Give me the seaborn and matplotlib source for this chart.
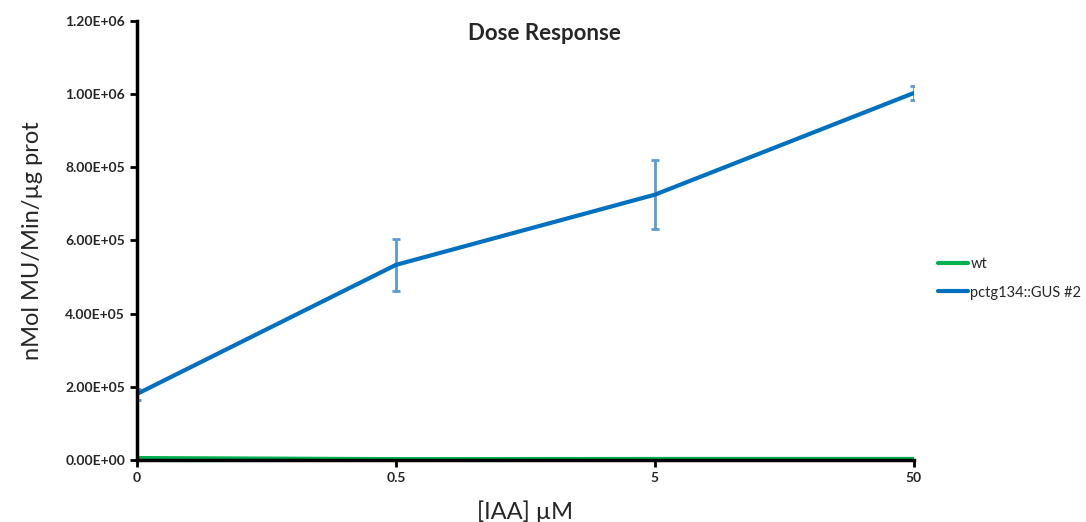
import pandas as pd
import matplotlib.pyplot as plt
import seaborn as sns

# Data
doses = ["0", "0.5", "5", "50"]
wt = [5000, 2000, 2500, 2500]
gus = [180000, 533000, 725000, 1003000]
gus_err = [15000, 71000, 94000, 18000]

green = "#00B050"
blue = "#0070C0"
err_blue = "#5B9BD5"


def main():
    sns.set_style("white")
    plt.rcParams['font.family'] = ['Lato', 'DejaVu Sans']

    df = pd.DataFrame({
        "dose": doses * 2,
        "value": wt + gus,
        "line": ["wt"] * 4 + ["pctg134::GUS #2"] * 4,
    })

    fig = plt.figure(figsize=(10.86, 5.22), dpi=100)
    ax = fig.add_axes([0.126, 0.119, 0.7156, 0.841])

    sns.lineplot(data=df, x="dose", y="value", hue="line",
                 palette={"wt": green, "pctg134::GUS #2": blue},
                 linewidth=3, ax=ax, sort=False)
    ax.errorbar(doses, gus, yerr=gus_err, fmt="none", ecolor=err_blue,
                elinewidth=2, capsize=3, capthick=2, zorder=1)

    ax.set_xlim(0, 3)
    ax.set_ylim(0, 1.2e6)
    ax.set_yticks([i * 2e5 for i in range(7)])
    ax.set_yticklabels([f"{i * 2e5:.2E}" for i in range(7)])

    for side in ["top", "right"]:
        ax.spines[side].set_visible(False)
    for side in ["left", "bottom"]:
        ax.spines[side].set_color("black")
        ax.spines[side].set_linewidth(2.5)
    ax.tick_params(axis="both", direction="out", length=5, width=2,
                   color="black", bottom=True, left=True, labelsize=10)
    for lab in ax.get_xticklabels() + ax.get_yticklabels():
        lab.set_fontweight("bold")

    ax.set_xlabel("[IAA] µM", fontsize=17, labelpad=12)
    ax.set_ylabel("nMol MU/Min/µg prot", fontsize=17, labelpad=16)
    fig.text(0.501, 0.923, "Dose Response", ha="center", va="baseline",
             fontsize=16, fontweight="bold")

    ax.legend(loc="center left", bbox_to_anchor=(0.852, 0.467),
              bbox_transform=fig.transFigure, frameon=False,
              fontsize=10.5, handlelength=2.0, labelspacing=1.0,
              handletextpad=0.2)

    fig.savefig("out.png", dpi=100)
    plt.close(fig)


if __name__ == "__main__":
    main()
